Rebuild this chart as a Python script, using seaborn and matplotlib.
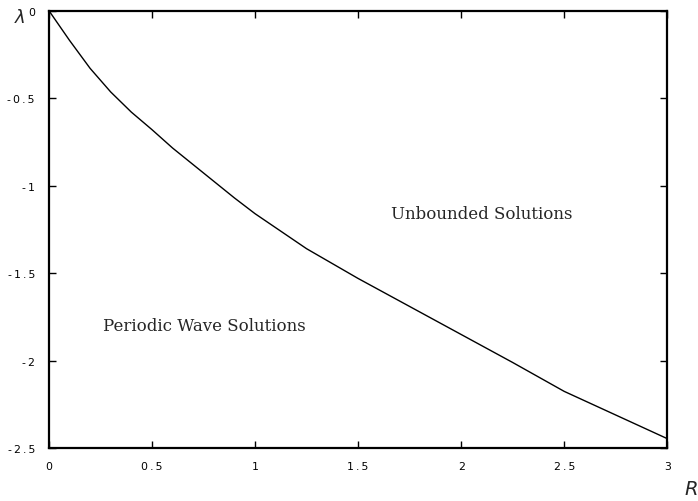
import matplotlib
matplotlib.use("Agg")
import matplotlib.pyplot as plt
import seaborn as sns
import pandas as pd

R = [0.0, 0.1, 0.2, 0.3, 0.4, 0.5, 0.6, 0.7, 0.8, 0.9, 1.0, 1.25, 1.5, 1.75,
     2.0, 2.25, 2.5, 2.75, 3.0]
lam = [0.0, -0.17, -0.33, -0.465, -0.58, -0.68, -0.785, -0.88, -0.975, -1.07,
       -1.16, -1.36, -1.53, -1.69, -1.85, -2.01, -2.175, -2.31, -2.445]
xticks = [0, 0.5, 1, 1.5, 2, 2.5, 3]
xticklabels = ["0", "0.5", "1", "1.5", "2", "2.5", "3"]
yticks = [0, -0.5, -1, -1.5, -2, -2.5]
yticklabels = ["0", "-0.5", "-1", "-1.5", "-2", "-2.5"]

sns.set_style("ticks")
df = pd.DataFrame({"R": R, "lam": lam})

fig = plt.figure(figsize=(6.98, 5.02), dpi=100)
ax = fig.add_axes([0.070, 0.105, 0.886, 0.872])
sns.lineplot(data=df, x="R", y="lam", ax=ax, color="black", linewidth=1.0,
             estimator=None, sort=False)
ax.set_xlim(0, 3)
ax.set_ylim(-2.5, 0)
ax.set_xlabel("")
ax.set_ylabel("")

def spaced(s):
    return "\u2009".join(list(s))

tickfont = "DejaVu Sans"
ax.set_xticks(xticks)
ax.set_xticklabels([spaced(t) for t in xticklabels], family=tickfont, fontsize=7.8)
ax.set_yticks(yticks)
ax.set_yticklabels([spaced(t) for t in yticklabels], family=tickfont, fontsize=7.8)
ax.tick_params(direction="in", length=5, width=1, top=True, right=True,
               colors="black")
ax.tick_params(axis="y", pad=10)
ax.tick_params(axis="x", pad=9)
for s in ax.spines.values():
    s.set_linewidth(1.6)
    s.set_color("black")

serif = "DejaVu Serif"
ax.text(0.262, -1.80, "Periodic Wave Solutions", family=serif, fontsize=12,
        va="center", ha="left")
ax.text(1.66, -1.16, "Unbounded Solutions", family=serif, fontsize=12,
        va="center", ha="left")
fig.text(20/698, 1 - 18/502, r"$\lambda$", fontsize=13, ha="center", va="center")
fig.text(691/698, 1 - 490/502, r"$R$", fontsize=14, ha="center", va="center")

fig.savefig("out.png", dpi=100)
